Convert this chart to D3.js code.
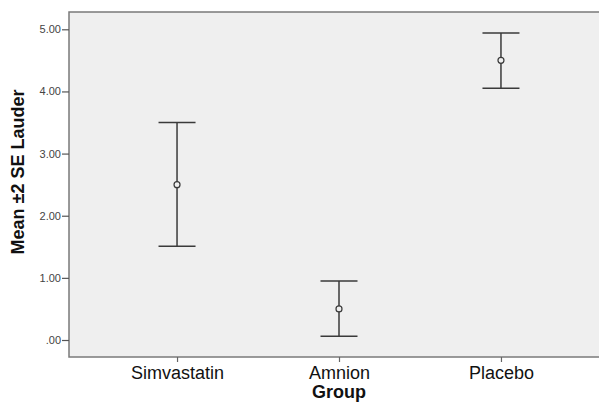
<!DOCTYPE html>
<html>
<head>
<meta charset="utf-8">
<script src="https://cdn.jsdelivr.net/npm/d3@7"></script>
<style>
  body { margin: 0; background: #fff; }
  svg { display: block; font-family: "Liberation Sans", Arial, sans-serif; }
</style>
</head>
<body>
<figure id="chart" style="margin:0"></figure>
<script>
// data
const groups = ["Simvastatin", "Amnion", "Placebo"];
const means = [2.50, 0.50, 4.50];
const lower = [1.51, 0.06, 4.05];
const upper = [3.50, 0.95, 4.94];
const yTicks = [0, 1, 2, 3, 4, 5];

const width = 599, height = 403;
const plot = { left: 69, top: 12, right: 609, bottom: 357 };

const svg = d3.select("figure#chart")
  .append("svg")
  .attr("width", width)
  .attr("height", height);

// scales
const x = d3.scalePoint()
  .domain(groups)
  .range([plot.left, plot.right])
  .padding(0.667);

const y = d3.scaleLinear()
  .domain([0, 5])
  .range([340, 29.3]);

// plot background
svg.append("rect")
  .attr("x", plot.left)
  .attr("y", plot.top)
  .attr("width", plot.right - plot.left)
  .attr("height", plot.bottom - plot.top)
  .attr("fill", "#efefef")
  .attr("stroke", "#7a7a7a")
  .attr("stroke-width", 1.5);

// Y axis
const yAxis = svg.append("g")
  .attr("transform", "translate(" + plot.left + ",0)")
  .call(d3.axisLeft(y).tickValues(yTicks).tickSize(7).tickPadding(1)
    .tickFormat(d => d === 0 ? ".00" : d3.format(".2f")(d)));
yAxis.select(".domain").remove();
yAxis.selectAll(".tick line").attr("stroke", "#555").attr("stroke-width", 1.2);
yAxis.selectAll(".tick text")
  .attr("fill", "#444")
  .style("font-size", "11px");

// X axis
const xAxis = svg.append("g")
  .attr("transform", "translate(0," + plot.bottom + ")")
  .call(d3.axisBottom(x).tickSize(5).tickPadding(4));
xAxis.select(".domain").remove();
xAxis.selectAll(".tick line").attr("stroke", "#666").attr("stroke-width", 1.2);
xAxis.selectAll(".tick text")
  .attr("fill", "#111")
  .style("font-size", "18px");

// axis titles
svg.append("text")
  .attr("x", 339)
  .attr("y", 398)
  .attr("text-anchor", "middle")
  .style("font-size", "18px")
  .style("font-weight", "bold")
  .attr("fill", "#111")
  .text("Group");

svg.append("text")
  .attr("transform", "translate(24,172) rotate(-90)")
  .attr("text-anchor", "middle")
  .style("font-size", "18px")
  .style("font-weight", "bold")
  .attr("fill", "#111")
  .text("Mean \u00b12 SE Lauder");

// error bars
const bars = groups.map((g, i) => ({ g: g, m: means[i], lo: lower[i], hi: upper[i] }));
const capHalf = 18.5;
const eb = svg.append("g")
  .attr("stroke", "#3a3a3a")
  .attr("stroke-width", 1.5)
  .attr("fill", "none");

eb.selectAll("line.whisker")
  .data(bars)
  .enter()
  .append("line")
  .attr("class", "whisker")
  .attr("x1", d => x(d.g))
  .attr("x2", d => x(d.g))
  .attr("y1", d => y(d.hi))
  .attr("y2", d => y(d.lo));

eb.selectAll("line.cap-hi")
  .data(bars)
  .enter()
  .append("line")
  .attr("x1", d => x(d.g) - capHalf)
  .attr("x2", d => x(d.g) + capHalf)
  .attr("y1", d => y(d.hi))
  .attr("y2", d => y(d.hi));

eb.selectAll("line.cap-lo")
  .data(bars)
  .enter()
  .append("line")
  .attr("x1", d => x(d.g) - capHalf)
  .attr("x2", d => x(d.g) + capHalf)
  .attr("y1", d => y(d.lo))
  .attr("y2", d => y(d.lo));

eb.selectAll("circle")
  .data(bars)
  .enter()
  .append("circle")
  .attr("cx", d => x(d.g))
  .attr("cy", d => y(d.m))
  .attr("r", 3)
  .attr("fill", "#efefef")
  .attr("stroke-width", 1.2);
</script>
</body>
</html>
